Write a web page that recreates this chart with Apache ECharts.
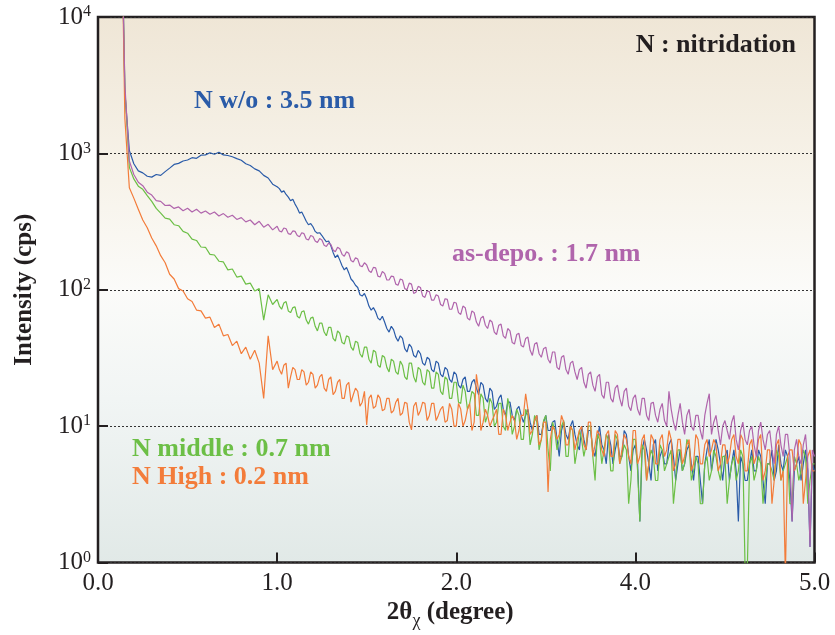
<!DOCTYPE html>
<html><head><meta charset="utf-8">
<script src="https://cdn.jsdelivr.net/npm/echarts@6/dist/echarts.min.js"></script>
<style>html,body{margin:0;padding:0;background:#fff}#c{width:835px;height:635px}</style>
</head><body><div id="c"></div>
<script>
// sample positions along the x axis (axis units; tick labels below)
const xs = [
0.135,0.15,0.175,0.2,0.225,0.25,0.275,0.3,0.325,0.35,
0.375,0.4,0.425,0.45,0.475,0.5,0.525,0.55,0.575,0.6,
0.625,0.65,0.675,0.7,0.725,0.75,0.775,0.8,0.825,0.85,
0.875,0.9,0.925,0.95,0.975,
1.0,1.0125,1.025,1.0375,1.05,1.0625,1.075,1.0875,1.1,1.1125,
1.125,1.1375,1.15,1.1625,1.175,1.1875,1.2,1.2125,1.225,1.2375,
1.25,1.2625,1.275,1.2875,1.3,1.3125,1.325,1.3375,1.35,1.3625,
1.375,1.3875,1.4,1.4125,1.425,1.4375,1.45,1.4625,1.475,1.4875,
1.5,1.5125,1.525,1.5375,1.55,1.5625,1.575,1.5875,1.6,1.6125,
1.625,1.6375,1.65,1.6625,1.675,1.6875,1.7,1.7125,1.725,1.7375,
1.75,1.7625,1.775,1.7875,1.8,1.8125,1.825,1.8375,1.85,1.8625,
1.875,1.8875,1.9,1.9125,1.925,1.9375,1.95,1.9625,1.975,1.9875,
2.0,2.0125,2.025,2.0375,2.05,2.0625,2.075,2.0875,2.1,2.1125,
2.125,2.1375,2.15,2.1625,2.175,2.1875,2.2,2.2125,2.225,2.2375,
2.25,2.2625,2.275,2.2875,2.3,2.3125,2.325,2.3375,2.35,2.3625,
2.375,2.3875,2.4,2.4125,2.425,2.4375,2.45,2.4625,2.475,2.4875,
2.5,2.5125,2.525,2.5375,2.55,2.5625,2.575,2.5875,2.6,2.6125,
2.625,2.6375,2.65,2.6625,2.675,2.6875,2.7,2.7125,2.725,2.7375,
2.75,2.7625,2.775,2.7875,2.8,2.8125,2.825,2.8375,2.85,2.8625,
2.875,2.8875,2.9,2.9125,2.925,2.9375,2.95,2.9625,2.975,2.9875,
3.0,3.0125,3.025,3.0375,3.05,3.0625,3.075,3.0875,3.1,3.1125,
3.125,3.1375,3.15,3.1625,3.175,3.1875,3.2,3.2125,3.225,3.2375,
3.25,3.2625,3.275,3.2875,3.3,3.3125,3.325,3.3375,3.35,3.3625,
3.375,3.3875,3.4,3.4125,3.425,3.4375,3.45,3.4625,3.475,3.4875,
3.5,3.5125,3.525,3.5375,3.55,3.5625,3.575,3.5875,3.6,3.6125,
3.625,3.6375,3.65,3.6625,3.675,3.6875,3.7,3.7125,3.725,3.7375,
3.75,3.7625,3.775,3.7875,3.8,3.8125,3.825,3.8375,3.85,3.8625,
3.875,3.8875,3.9,3.9125,3.925,3.9375,3.95,3.9625,3.975,3.9875,
4.0];

const nWo = [
30000,2800,1050,840,745,720,680,670,700,690,
735,780,830,845,880,895,930,920,970,975,
1010,985,1020,975,965,945,915,890,840,815,
770,745,690,660,595,
570,552,520,531,500,478,450,462,425,398,
365,372,345,318,300,306,290,268,260,262,
250,236,225,228,210,188,172,180,165,150,
140,146,133,120,115,108,104,92,90,94,
86,76,71,74,69,62,60,64,58,52,
49,54,51,45,42,46,44,37,35,40,
38,33,32,36,34,29,28,32,31,26,
25,30,29,24,23,27,26,22,21,25,
24,20,19,22,23,18,18,21,22,19,
17,21,20,16,15,19,18,13.3,14,16,
17,13.3,12,15,15,12,11,13.3,14,12,
10.7,12,13.3,10.7,9.3,11,12,8.7,8.7,10.7,
12,9.3,9.3,10.7,11,8,6,9.3,10.7,8.7,
8,10,11,8.7,7.3,6.7,10,8,6.7,9.3,
9.3,6.7,6,8,10,7.3,6.7,5.3,8.7,7.3,
5.3,6.7,8,6,6,9.3,8.7,6,4.7,6.7,
7.3,5.3,2,6.7,8,6.7,5.3,4,7.3,8,
4.7,6,6.7,5.3,5.3,7.3,8,6,4,5.3,
6.7,4.7,5.3,6.7,7.3,5.3,4,6,6,4,
2.7,5.3,6.7,8,4.7,6,8,6.7,5.3,4,
6,6.7,4,5.3,6.7,4.7,2,6,5.3,4,
4,5.3,6.7,4.7,4.7,6.7,6,4,2.7,5.3,
5.3,6.7,4,4.7,7.3,5.3,4.7,6.7,6,4,
2,4.7,5.3,6,4,5.3,6.7,4.7,1.3,5.3,
4.7];

const nMiddle = [
30000,3000,790,650,575,545,490,445,395,365,
335,330,300,295,268,260,235,230,206,205,
182,180,162,160,140,142,124,126,110,112,
98,102,60,92,78,
85,76,72,80,82,70,68,74,75,64,
62,69,70,60,56,62,63,54,50,57,
57,49,46,53,53,44,42,50,48,41,
40,46,45,38,36,42,41,34,32,38,
38,31,29,36,35,28,27,33,32,27,
25,31,30,25,24,30,28,23,22,29,
29,23,21,27,26,21,20,26,25,19,
19,25,24,18,17,23,22,16,16,21,
21,15,14.7,20,18,13.3,14.7,18,17.3,12,
12,17.3,16,10.7,12,16,14.7,10,10.7,14.7,
14.7,10,9.3,16,13.3,8.7,10,13.3,12,8,
8,13.3,12,7.3,8.7,12,10.7,6.7,8,11,
12,6.7,4.7,10.7,9.3,6.7,8,10,11,6,
6,10,9.3,5.3,6.7,9.3,8,6,7.3,10,
10,6,4,8.7,8,5.3,6.7,8.7,8,4.7,
4.7,8.7,8,5.3,6,7.3,6.7,2.7,4,8,
8,4.7,2,7.3,6.7,4,5.3,6.7,6,4,
4,7.3,6.7,4.7,5.3,6,6.7,2.7,4,6.7,
6.7,4.7,5.3,8,7.3,4,4.7,6,5.3,2.7,
2.7,5.3,6,4,4.7,6.7,6,4.7,4,6,
6,2.7,4,5.3,6,4,4.7,6.7,6,0.9,
0.9,5.3,6,4,4.7,6,5.3,2.7,4,5.3,
5.3,4.7,4,6.7,6,4,4.7,5.3,6,2.7,
2.7,6,5.3,4,4.7,6.7,6,2.7,4,5.3,
5.3];

const nHigh = [
30000,1800,560,470,390,325,285,240,210,178,
158,130,120,102,98,86,82,71,70,62,
63,53,56,46,47,39,42,34,38,31,
36,29,16,46,26,
30,26,24,28,29,19,23,27,26,22,
22,26,25,20,21,25,24,19,20,23,
24,19,18,22,23,17,18,21,22,16,
16,20,21,15,17,19,18,14,15,18,
10.2,16,17,13.5,14,17,16,13,13.3,16,
16,12.5,13,15,16,12,12.5,15,14.7,10.7,
9.4,14,15,12,13,15,14.7,11,12,14.7,
14.7,11,12,13.3,14,10.7,11,14.7,13.3,10,
10,14.7,13.3,10,11,13.3,14.7,9.3,10.7,24,
18,9.3,10.7,13.3,12,10,11,12,13.3,8.7,
8.7,13.3,12,9.3,10.7,12,11,8,9.3,12,
12,17.3,13.3,8.7,9.3,11,12,7.3,8,10.7,
10.7,3.3,8,10,9.3,8,8.7,12,10.7,7.3,
7.3,10,9.3,6.7,8,9.3,10,7.3,6.7,10.7,
10.7,6,7.3,9.3,8.7,6.7,6,8.7,9.3,6,
6,9.3,8.7,5.3,6.7,8.7,8,6,5.3,9.3,
9.3,5.3,6,8,8.7,4,5.3,8.7,8,5.3,
5.3,8,8.7,6,6.7,9.3,8,4.7,5.3,8,
8,5.3,6,7.3,8,4.7,5.3,8.7,8,5.3,
5.3,7.3,8,6,6.7,8,7.3,4.7,5.3,7.3,
7.3,5.3,6,8,8.7,6,5.3,8.7,8,4.7,
4.7,7.3,8,5.3,6,8,8.7,4,4.7,6.7,
6.7,2.7,4,7.3,8,4,4.7,0.8,6,6.7,
6.7,4.7,5.3,8,7.3,2.7,4,6,6.7,4.7,
4.7];

const asDepo = [
30000,3200,880,700,615,580,520,495,450,445,
415,418,395,405,380,396,372,390,365,378,
358,372,348,362,340,352,328,338,315,325,
300,318,288,302,275,
292,270,266,284,280,258,255,270,268,250,
245,262,258,236,232,250,246,228,222,238,
232,212,208,220,215,196,190,205,200,182,
176,190,185,164,160,172,168,150,148,158,
152,138,134,146,145,126,124,136,132,118,
118,126,125,110,108,120,118,102,100,112,
110,94,96,106,104,90,88,98,97,84,
84,92,90,78,76,86,85,72,72,81,
80,68,66,76,74,62,60,70,68,58,
54,62,64,55,52,60,58,49,47,55,
56,46,44,52,50,41,40,47,48,39,
38,44,45,36,33,40,41,34,32,37,
38,31,29,35,35,27,26,32,33,26,
24,29,30,25,22,26,27,21,19,24,
25,20,18,23,24,17,16,21,21,16,
15,19,20,16,14,18,19,14,13,16,
17,13.3,12,16,16,12,11,14.7,15,12,
10.7,13.3,14.7,11,10,18,13.3,10.7,9.3,12,
14.7,10.7,8.7,12,13.3,10,9.3,12,12,9.3,
8,12,14.7,17.3,8.7,10.7,12,9.3,7.3,10,
11,9.3,8,10.7,12,8,6.7,9.3,10.7,8,
7.3,9.3,10,7.3,6,9.3,10.7,8,6.7,8.7,
9.3,6.7,5.3,8.7,10,7.3,6,8.7,8.7,6,
2,6.7,8,6,5.3,7.3,8.7,5.3,1.3,6.7,
6];

const xTickValues = [0, 1, 2, 3, 4];
const xTickLabels = ['0.0', '1.0', '2.0', '4.0', '5.0'];
const yTickValues = [1, 10, 100, 1000, 10000];
const yTickExps = ['0', '1', '2', '3', '4'];

const seriesNames = ['N w/o : 3.5 nm', 'N middle : 0.7 nm', 'N High : 0.2 nm', 'as-depo. : 1.7 nm'];
const seriesColors = ['#2a5ba8', '#6cbf46', '#f37c3a', '#b065ac'];
const seriesValues = [nWo, nMiddle, nHigh, asDepo];

const serif = "'Liberation Serif','Times New Roman',serif";
const ink = '#231f20';

const chart = echarts.init(document.getElementById('c'), null, {renderer: 'canvas'});

const series = seriesValues.map((vals, k) => ({
  name: seriesNames[k],
  type: 'line',
  data: xs.map((x, i) => [x, vals[i]]),
  showSymbol: false,
  clip: true,
  lineStyle: {color: seriesColors[k], width: 1.2},
  itemStyle: {color: seriesColors[k]},
  z: 2 + k
}));

function label(text, x, y, color, align) {
  return {type: 'text', x: x, y: y, z: 100,
    style: {text: text, fill: color, font: 'bold 26px ' + serif,
      textAlign: align, textVerticalAlign: 'middle'}};
}

chart.setOption({
  animation: false,
  backgroundColor: '#ffffff',
  grid: {
    left: 98, top: 17, right: 20.5, bottom: 70,
    show: true, borderColor: ink, borderWidth: 2.5,
    backgroundColor: {type: 'linear', x: 0, y: 0, x2: 0, y2: 1, colorStops: [
      {offset: 0, color: '#efe6d6'},
      {offset: 0.3, color: '#f7f3ea'},
      {offset: 0.5, color: '#fbfbf9'},
      {offset: 0.7, color: '#f1f5f4'},
      {offset: 1, color: '#e1e9e7'}]}
  },
  xAxis: {
    type: 'value', min: 0, max: 4, interval: 1,
    axisLine: {show: false},
    axisTick: {inside: true, length: 10, lineStyle: {color: ink, width: 2}},
    splitLine: {show: false},
    axisLabel: {
      margin: 8, color: ink, fontFamily: serif, fontSize: 25,
      formatter: v => xTickLabels[xTickValues.indexOf(Math.round(v))]
    },
    name: '{a|2θ}{s|χ}{a| (degree)}',
    nameLocation: 'middle', nameGap: 30,
    nameTextStyle: {
      padding: [0, 12, 0, 0],
      rich: {
        a: {fontFamily: serif, fontWeight: 'bold', fontSize: 25, color: ink, lineHeight: 34},
        s: {fontFamily: serif, fontWeight: 'normal', fontSize: 18, color: ink, lineHeight: 18, verticalAlign: 'bottom'}
      }
    }
  },
  yAxis: {
    type: 'log', logBase: 10, min: 1, max: 10000,
    axisLine: {show: false},
    axisTick: {inside: true, length: 10, lineStyle: {color: ink, width: 2}},
    splitLine: {show: true, lineStyle: {color: '#333', width: 1, type: [2, 2]}},
    axisLabel: {
      margin: 7, color: ink,
      formatter: v => {
        const idx = yTickValues.findIndex(t => Math.abs(t - v) < t * 1e-6);
        return '{b|10}{s|' + yTickExps[idx] + '}';
      },
      rich: {
        b: {fontFamily: serif, fontSize: 25, color: ink, lineHeight: 26},
        s: {fontFamily: serif, fontSize: 16, color: ink, lineHeight: 17, verticalAlign: 'top'}
      }
    },
    name: 'Intensity (cps)',
    nameLocation: 'middle', nameGap: 61,
    nameTextStyle: {fontFamily: serif, fontWeight: 'bold', fontSize: 25, color: ink}
  },
  series: series,
  graphic: [
    label('N : nitridation', 796, 45, ink, 'right'),
    label(seriesNames[0], 194, 101, seriesColors[0], 'left'),
    label(seriesNames[3], 452, 254, seriesColors[3], 'left'),
    label(seriesNames[1], 132, 449, seriesColors[1], 'left'),
    label(seriesNames[2], 132, 477, seriesColors[2], 'left')
  ]
});
</script>
</body></html>
